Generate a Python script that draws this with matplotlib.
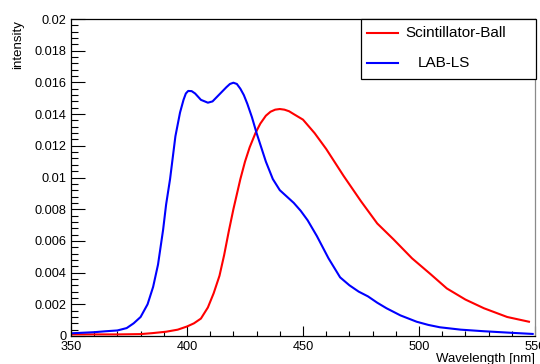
import matplotlib
matplotlib.use("Agg")
import matplotlib.pyplot as plt
from matplotlib.lines import Line2D
from matplotlib.patches import Rectangle
from matplotlib.ticker import MultipleLocator, FuncFormatter

plt.rcParams['font.family'] = ['Liberation Sans', 'DejaVu Sans']

# Emission spectra
lab_wl = [350, 360, 365, 370, 374, 377, 380, 383, 385.4, 387.5, 389.7, 391, 392.7,
          395, 397, 398.5, 399.5, 400.5, 402, 403.5, 406, 409, 411, 413, 415, 417,
          418.5, 420, 421.5, 423, 424.5, 426, 428, 430, 432, 434, 437, 440, 443, 446,
          449, 452, 456, 461, 466, 470, 474, 478, 482, 486, 492, 499, 504, 509, 518,
          528, 540, 549]
lab_int = [0.00017, 0.00024, 0.0003, 0.00035, 0.0005, 0.0008, 0.0012, 0.002, 0.0031,
           0.0045, 0.0067, 0.0083, 0.0099, 0.0126, 0.0141, 0.0149, 0.0153, 0.01546,
           0.01545, 0.0153, 0.0149, 0.01472, 0.0148, 0.0151, 0.0154, 0.0157, 0.0159,
           0.01598, 0.0159, 0.0156, 0.0152, 0.01465, 0.0138, 0.0128, 0.0119, 0.011,
           0.0099, 0.0092, 0.0088, 0.0084, 0.0079, 0.0073, 0.0063, 0.0049, 0.0037,
           0.0032, 0.0028, 0.0025, 0.0021, 0.00175, 0.0013, 0.0009, 0.0007, 0.00055,
           0.0004, 0.0003, 0.0002, 0.00013]

ball_wl = [350, 370, 380, 385, 391, 396, 400, 403, 406, 409, 411.5, 414, 416, 418,
           420, 423, 425, 427, 429.5, 431.6, 434, 436, 438, 440, 442, 444, 446, 450,
           455, 460, 467.5, 475, 482, 489, 497, 505, 512, 520, 528, 538, 547.4]
ball_int = [0.0001, 0.0001, 0.00012, 0.00018, 0.00027, 0.0004, 0.0006, 0.0008, 0.0011,
            0.0018, 0.0027, 0.0038, 0.0051, 0.0066, 0.008, 0.0099, 0.011, 0.0119,
            0.0128, 0.0134, 0.0139, 0.01415, 0.01428, 0.01432, 0.01428, 0.01418,
            0.014, 0.01365, 0.0128, 0.0118, 0.0101, 0.0085, 0.0071, 0.0061, 0.0049,
            0.0039, 0.003, 0.0023, 0.00175, 0.0012, 0.0009]

labels = ["Scintillator-Ball", "LAB-LS"]
colors = ["#ff0000", "#0000ff"]

W, H = 540, 364
fig = plt.figure(figsize=(W / 100, H / 100), dpi=100)
ax = fig.add_axes([71 / W, 1 - 336 / H, (535 - 71) / W, (336 - 19) / H])

ax.plot(ball_wl, ball_int, color=colors[0], lw=1.5)
ax.plot(lab_wl, lab_int, color=colors[1], lw=1.5)

ax.set_xlim(350, 550)
ax.set_ylim(0, 0.02)

ax.xaxis.set_major_locator(MultipleLocator(50))
ax.xaxis.set_minor_locator(MultipleLocator(10))
ax.yaxis.set_major_locator(MultipleLocator(0.002))
ax.yaxis.set_minor_locator(MultipleLocator(0.0004))


def yfmt(v, pos):
    if abs(v) < 1e-12:
        return "0"
    return ("%.3f" % v).rstrip("0")


ax.yaxis.set_major_formatter(FuncFormatter(yfmt))

ax.tick_params(axis='both', which='both', direction='in', top=False, right=False,
               width=0.8, labelsize=9.2, colors='black')
ax.tick_params(axis='y', which='major', length=10, pad=3)
ax.tick_params(axis='y', which='minor', length=5)
ax.tick_params(axis='x', which='major', length=7, pad=3.5)
ax.tick_params(axis='x', which='minor', length=3.6)

for s in ['left', 'bottom', 'top']:
    ax.spines[s].set_linewidth(0.9)
    ax.spines[s].set_color('black')
ax.spines['right'].set_linewidth(0.9)
ax.spines['right'].set_color('#8a8a8a')

# axis titles
fig.text(535 / W, 1 - 362 / H, "Wavelength [nm]", ha='right', va='baseline', fontsize=9.5)
fig.text(18 / W, 1 - 20 / H, "intensity", rotation=90, ha='center', va='top', fontsize=9.5)

# legend box
tf = fig.transFigure
fig.add_artist(Rectangle((361 / W, 1 - 79 / H), (536 - 361) / W, 60 / H, transform=tf,
                         facecolor='white', edgecolor='black', lw=0.9, zorder=5))
entry_y = [33, 63]
text_x = [405, 418]
for lab, col, yy, tx in zip(labels, colors, entry_y, text_x):
    fig.add_artist(Line2D([367 / W, 398 / W], [1 - yy / H, 1 - yy / H], transform=tf,
                          color=col, lw=1.5, zorder=6))
    fig.text(tx / W, 1 - yy / H, lab, ha='left', va='center', fontsize=11, zorder=6)

fig.savefig("out.png", dpi=100)
